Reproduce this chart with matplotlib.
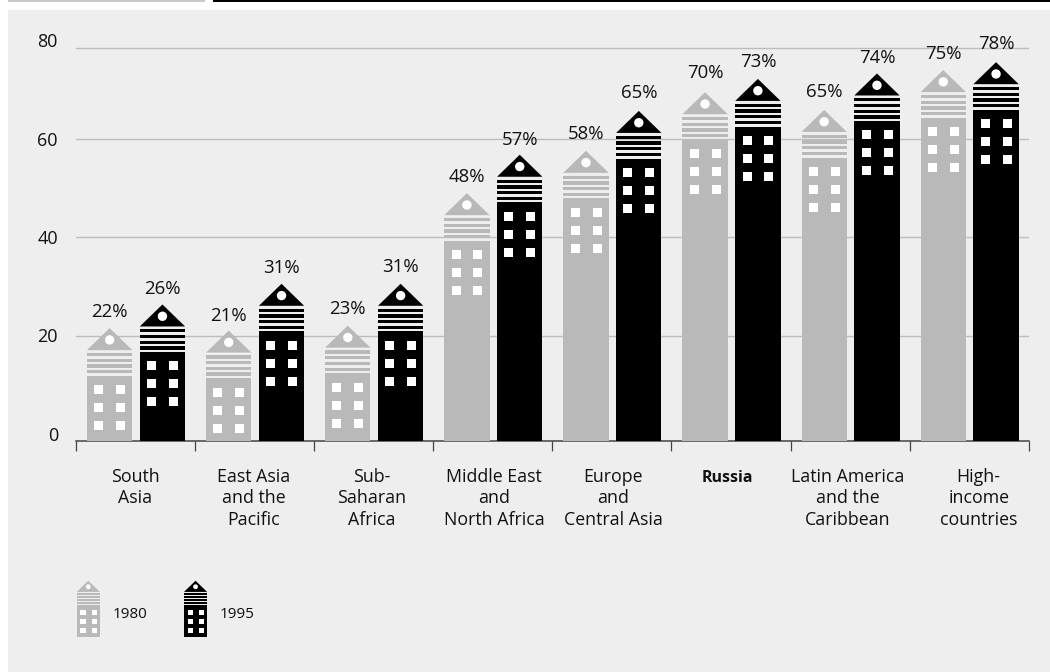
import matplotlib
matplotlib.use("Agg")
import matplotlib.pyplot as plt
from matplotlib.patches import Ellipse, Polygon, Rectangle

plt.rcParams["font.family"] = ["Open Sans", "DejaVu Sans"]

categories = ["South\nAsia", "East Asia\nand the\nPacific", "Sub-\nSaharan\nAfrica",
              "Middle East\nand\nNorth Africa", "Europe\nand\nCentral Asia", "Russia",
              "Latin America\nand the\nCaribbean", "High-\nincome\ncountries"]
pct_1980 = [22, 21, 23, 48, 58, 70, 65, 75]
pct_1995 = [26, 31, 31, 57, 65, 73, 74, 78]
# roof tips, they do not quite follow the printed labels
tops_1980 = [21.5, 21.0, 22.0, 48.9, 57.5, 69.4, 65.8, 73.9]
tops_1995 = [26.3, 30.5, 30.5, 56.7, 65.6, 72.1, 73.2, 75.5]
y_ticks = [0, 20, 40, 60, 80]
grid_levels = [20, 40, 60, 78.4]

GREY = "#b9b9b9"
BLACK = "#000000"
PANEL = "#eeeeee"
TEXT = "#111111"

W, H = 1050, 672
LEFT, RIGHT, TOP, BOTTOM = 76.0, 1028.7, 40.0, 441.0
PX_PER_UNIT = 4.925
YMIN = -(BOTTOM - 434.0) / PX_PER_UNIT

fig = plt.figure(figsize=(W / 100, H / 100), dpi=100, facecolor="white")

# --- Page furniture, in pixels ---

page = fig.add_axes([0, 0, 1, 1], zorder=0)
page.set_xlim(0, W)
page.set_ylim(H, 0)
page.axis("off")
page.add_patch(Rectangle((8, 10), W - 8, H - 10, fc=PANEL, ec="none"))
page.add_patch(Rectangle((8, 0), 197, 2, fc="#c8c8c8", ec="none"))
page.add_patch(Rectangle((213, 0), W - 213, 2, fc=BLACK, ec="none"))


def draw_tower(ax, left, top, bottom, color, sx, sy, scale=1.0):
    """sx, sy are data units per pixel, sy is negative on an inverted axis."""
    def px(a, b):
        return left + a * scale * sx, top - b * scale * sy

    kw = dict(fc=color, ec="none", zorder=3, clip_on=False)
    ax.add_patch(Polygon([px(0, 22), px(22.65, 0), px(45.3, 22)], **kw))
    for y0, y1 in [(24.8, 28), (30.5, 33.8), (36.2, 39.5), (41.9, 45.2)]:
        ax.add_patch(Polygon([px(0, y0), px(45.3, y0), px(45.3, y1), px(0, y1)], **kw))
    body_top = top - 47.6 * scale * sy
    ax.add_patch(Polygon([(left, body_top), (left + 45.3 * scale * sx, body_top),
                          (left + 45.3 * scale * sx, bottom), (left, bottom)], **kw))

    win = dict(fc="white", ec="none", zorder=4, clip_on=False)
    w = 9.0 if scale == 1.0 else 10.4
    for col in (7.3, 29.2):
        for row in (57.0, 75.0, 93.0):
            ax.add_patch(Polygon([px(col, row), px(col + w, row),
                                  px(col + w, row + w), px(col, row + w)], **win))
    # axes are not equal scale, so the roof hole is an ellipse in data units
    ax.add_patch(Ellipse(px(22.65, 11.8), 9.4 * scale * sx, abs(9.4 * scale * sy), fc="white",
                         ec="none", zorder=4, clip_on=False))


# --- Chart ---

ax = fig.add_axes([LEFT / W, 1 - BOTTOM / H, (RIGHT - LEFT) / W, (BOTTOM - TOP) / H],
                  zorder=1)
ax.patch.set_alpha(0)
ax.set_xlim(0, len(categories))
ax.set_ylim(YMIN, 80)

sx = len(categories) / (RIGHT - LEFT)
sy = 1 / PX_PER_UNIT

for level in grid_levels:
    ax.axhline(level, color="#bdbdbd", linewidth=1.0, zorder=1)

# the printed percentages sit a little unevenly above the roofs
lift_1980 = [-1, -2, 0, -1, 0, 2, 1, -1]
lift_1995 = [-2, -1, 0, -2, 1, 0, -2, 1]

for i in range(len(categories)):
    for off, tops, pct, lift, color in [(11.0, tops_1980, pct_1980, lift_1980, GREY),
                                        (63.8, tops_1995, pct_1995, lift_1995, BLACK)]:
        left = i + off * sx
        draw_tower(ax, left, tops[i], YMIN, color, sx, sy)
        ax.annotate(f"{pct[i]}%", (left + 22.65 * sx, tops[i]),
                    xytext=(0, (17 + lift[i]) * 0.72),
                    textcoords="offset points", ha="center", va="center",
                    fontsize=13.4, color=TEXT, zorder=5)

for side in ("top", "left", "right"):
    ax.spines[side].set_visible(False)
ax.spines["bottom"].set_color("#444444")
ax.spines["bottom"].set_linewidth(1.1)

ax.set_xticks(range(len(categories) + 1))
ax.set_xticklabels([])
ax.tick_params(axis="x", length=7.2, width=0.9, color="#444444")
ax.set_yticks(y_ticks)
ax.tick_params(axis="y", length=0, pad=13, labelsize=13, labelcolor=TEXT)

# the printed labels are not all centred under their group
label_shift = [0, -1, -2, 1.5, 1.5, -4, -2, 9.5]
for i, name in enumerate(categories):
    bold = name == "Russia"
    ax.annotate(name, (i + 0.5, 0), xycoords=("data", "axes fraction"),
                xytext=(label_shift[i] * 0.72, -(29 if bold else 27) * 0.72),
                textcoords="offset points",
                ha="center", va="top", fontsize=11.5 if bold else 12.8, color=TEXT,
                linespacing=1.24, fontweight="bold" if bold else "normal")

# --- Legend, in pixels ---

for x0, color, year, tx in [(76.7, GREY, "1980", 112.7), (184.0, BLACK, "1995", 220.0)]:
    draw_tower(page, x0, 580.7, 637.3, color, 1, -1, scale=0.51)
    page.text(tx, 615, year, ha="left", va="center", fontsize=11, color=TEXT)

fig.savefig("out.png", dpi=100, facecolor="white")
